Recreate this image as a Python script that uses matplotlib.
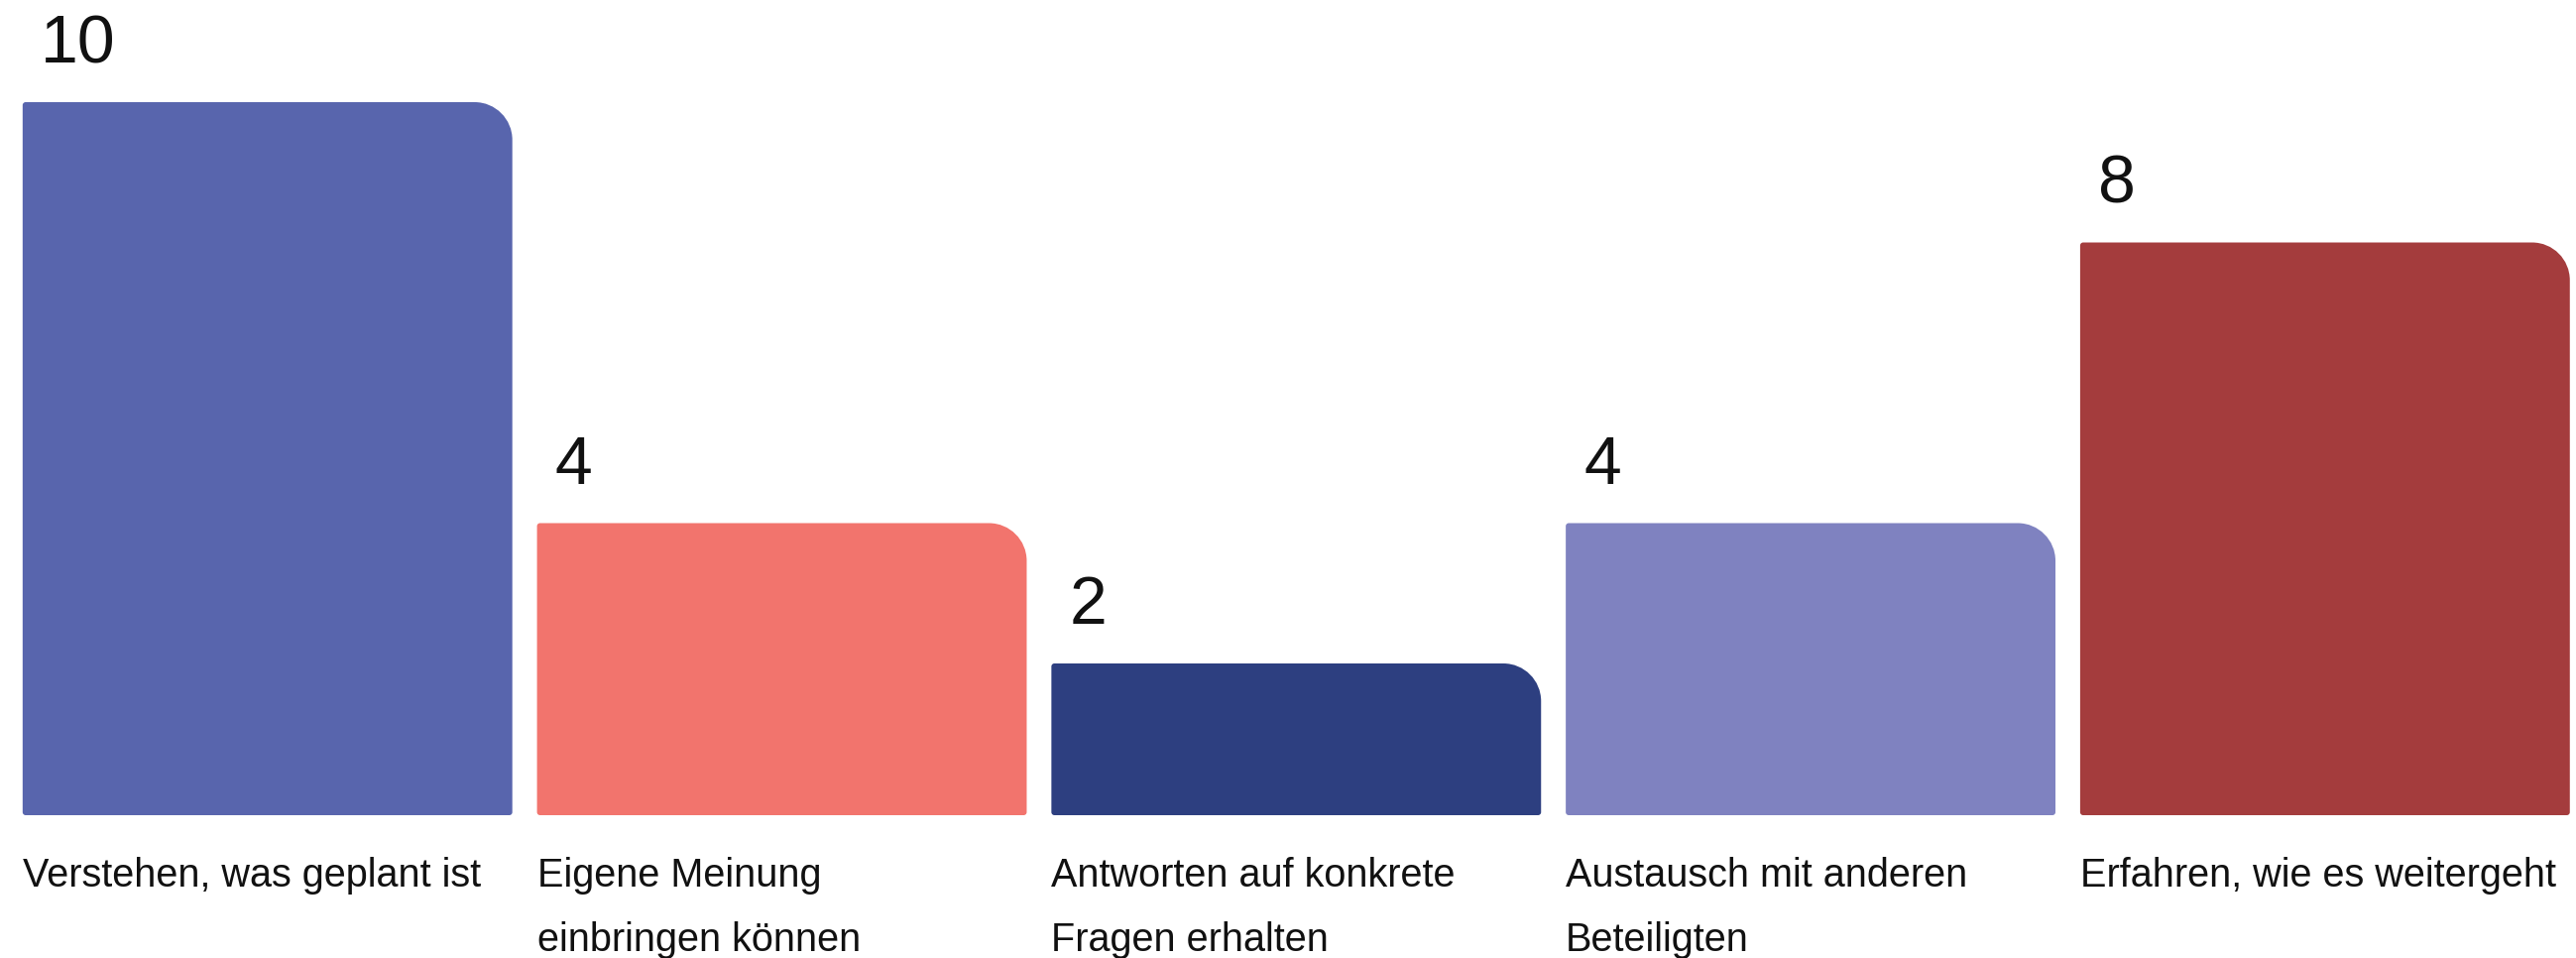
import matplotlib
matplotlib.use("Agg")
import matplotlib.pyplot as plt
from matplotlib.path import Path
from matplotlib.patches import PathPatch

# ---- data ----
categories = [
    "Verstehen, was geplant ist",
    "Eigene Meinung\neinbringen können",
    "Antworten auf konkrete\nFragen erhalten",
    "Austausch mit anderen\nBeteiligten",
    "Erfahren, wie es weitergeht",
]
values = [10, 4, 2, 4, 8]
value_labels = ["10", "4", "2", "4", "8"]
colors = ["#5865AD", "#F2746D", "#2D3F80", "#7F82C0", "#A43C3D"]

# ---- style ----
W, H, DPI = 2598, 966, 100
BASE = 0.1625          # bars start slightly below zero
BAR_W = 0.952
R_BIG = 38             # px radius top-right corner
R_SMALL = 3            # px radius other corners

fig = plt.figure(figsize=(W / DPI, H / DPI), dpi=DPI)
fig.patch.set_facecolor("white")
ax = fig.add_axes([0, 0, 1, 1])
ax.set_xlim(-0.520, 4.488)
ax.set_ylim(-2.198, 11.456)
ax.axis("off")

x = list(range(len(values)))
bars = ax.bar(x, [v + BASE for v in values], bottom=-BASE, width=BAR_W,
              color=colors, alpha=0)

fig.canvas.draw()
to_disp = ax.transData
inv = ax.transData.inverted()


def rounded_path(x0, y0, x1, y1, rtl, rtr, rbr, rbl):
    # coordinates in display px
    k = 0.5523
    verts = [
        (x0 + rbl, y0),
        (x1 - rbr, y0),
        (x1 - rbr + k * rbr, y0), (x1, y0 + rbr - k * rbr), (x1, y0 + rbr),
        (x1, y1 - rtr),
        (x1, y1 - rtr + k * rtr), (x1 - rtr + k * rtr, y1), (x1 - rtr, y1),
        (x0 + rtl, y1),
        (x0 + rtl - k * rtl, y1), (x0, y1 - rtl + k * rtl), (x0, y1 - rtl),
        (x0, y0 + rbl),
        (x0, y0 + rbl - k * rbl), (x0 + rbl - k * rbl, y0), (x0 + rbl, y0),
        (x0 + rbl, y0),
    ]
    codes = [Path.MOVETO, Path.LINETO,
             Path.CURVE4, Path.CURVE4, Path.CURVE4,
             Path.LINETO,
             Path.CURVE4, Path.CURVE4, Path.CURVE4,
             Path.LINETO,
             Path.CURVE4, Path.CURVE4, Path.CURVE4,
             Path.LINETO,
             Path.CURVE4, Path.CURVE4, Path.CURVE4,
             Path.CLOSEPOLY]
    dv = inv.transform(verts)
    return Path(dv, codes)


for b, c in zip(bars, colors):
    (x0, y0), (x1, y1) = to_disp.transform([(b.get_x(), b.get_y()),
                                            (b.get_x() + b.get_width(), b.get_y() + b.get_height())])
    p = rounded_path(x0, y0, x1, y1, R_SMALL, R_BIG, R_SMALL, R_SMALL)
    ax.add_patch(PathPatch(p, facecolor=c, edgecolor="none", transform=ax.transData))

px2pt = 72 / DPI

for b, v, lab in zip(bars, values, value_labels):
    ax.annotate(lab, xy=(b.get_x(), v), xytext=(18 * px2pt, 40 * px2pt),
                textcoords="offset points", ha="left", va="baseline",
                fontsize=49, color="#111111", family="Liberation Sans")

for b, cat in zip(bars, categories):
    for i, line in enumerate(cat.split("\n")):
        ax.annotate(line, xy=(b.get_x(), -BASE), xytext=(0, -(72 + 65 * i) * px2pt),
                    textcoords="offset points", ha="left", va="baseline",
                    fontsize=28.5, color="#111111", family="Liberation Sans")

fig.savefig("out.png", dpi=DPI, facecolor="white")
